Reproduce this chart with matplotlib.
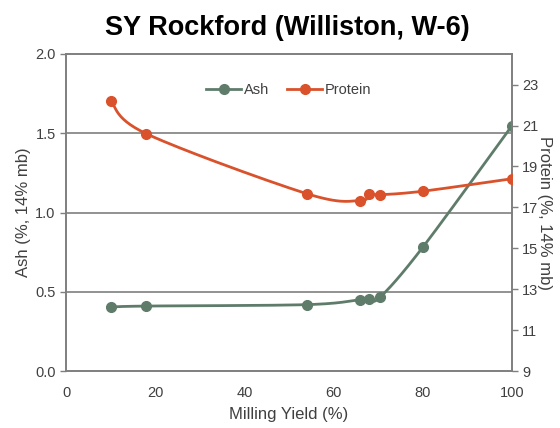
import matplotlib
matplotlib.use("Agg")
import matplotlib.pyplot as plt
import numpy as np

# data
milling_yield = [10, 18, 54, 66, 68, 70.5, 80, 100]
ash = [0.404, 0.41, 0.419, 0.45, 0.454, 0.467, 0.78, 1.546]
protein = [22.2, 20.6, 17.67, 17.33, 17.66, 17.62, 17.79, 18.4]

x_ticks = [0, 20, 40, 60, 80, 100]
ash_ticks = [0.0, 0.5, 1.0, 1.5, 2.0]
protein_ticks = [9, 11, 13, 15, 17, 19, 21, 23]

ASH_COLOR = "#5f7c6b"
PROTEIN_COLOR = "#d9522c"
GRAY = "#7f7f7f"
TEXT = "#404040"


def smooth(xs, ys, n=30):
    # Catmull-Rom style curve through the points, like Excel's smoothed lines
    xs = np.asarray(xs, float)
    ys = np.asarray(ys, float)
    px, py = [], []
    for i in range(len(xs) - 1):
        x0, y0 = (xs[i - 1], ys[i - 1]) if i > 0 else (xs[i], ys[i])
        x1, y1 = xs[i], ys[i]
        x2, y2 = xs[i + 1], ys[i + 1]
        x3, y3 = (xs[i + 2], ys[i + 2]) if i + 2 < len(xs) else (x2, y2)
        c1x, c1y = x1 + (x2 - x0) / 6, y1 + (y2 - y0) / 6
        c2x, c2y = x2 - (x3 - x1) / 6, y2 - (y3 - y1) / 6
        t = np.linspace(0, 1, n)
        bx = (1 - t) ** 3 * x1 + 3 * (1 - t) ** 2 * t * c1x + 3 * (1 - t) * t ** 2 * c2x + t ** 3 * x2
        by = (1 - t) ** 3 * y1 + 3 * (1 - t) ** 2 * t * c1y + 3 * (1 - t) * t ** 2 * c2y + t ** 3 * y2
        px.extend(bx)
        py.extend(by)
    return px, py


def main():
    plt.rcParams["font.family"] = ["Liberation Sans", "DejaVu Sans"]
    fig = plt.figure(figsize=(5.6, 4.28), dpi=100)
    ax = fig.add_axes([0.118, 0.133, 0.796, 0.741])
    ax2 = ax.twinx()

    ax.set_xlim(0, 100)
    ax.set_ylim(0, 2.0)
    ax2.set_ylim(9, 24.5)

    for v in ash_ticks[1:-1]:
        ax.axhline(v, color=GRAY, lw=1.2, zorder=0)

    sx, sy = smooth(milling_yield, ash)
    ax.plot(sx, sy, color=ASH_COLOR, lw=2, zorder=3)
    ax.plot(milling_yield, ash, "o", color=ASH_COLOR, ms=7, zorder=4)
    sx, sy = smooth(milling_yield, protein)
    ax2.plot(sx, sy, color=PROTEIN_COLOR, lw=2, zorder=3)
    ax2.plot(milling_yield, protein, "o", color=PROTEIN_COLOR, ms=7, zorder=4)

    # legend handles
    h1, = ax.plot([], [], "-o", color=ASH_COLOR, lw=2, ms=7, label="Ash")
    h2, = ax.plot([], [], "-o", color=PROTEIN_COLOR, lw=2, ms=7, label="Protein")
    ax.legend(handles=[h1, h2], loc="upper center", bbox_to_anchor=(0.5, 0.95), ncol=2,
              frameon=False, fontsize=10.5, handlelength=2.4, columnspacing=1.2,
              handletextpad=0.2, labelcolor=TEXT)

    ax.set_xticks(x_ticks)
    ax.set_yticks(ash_ticks)
    ax.set_yticklabels(["%.1f" % v for v in ash_ticks])
    ax2.set_yticks(protein_ticks)

    for a in (ax, ax2):
        for s in a.spines.values():
            s.set_color(GRAY)
            s.set_linewidth(1.2)
        a.tick_params(colors=GRAY, labelcolor=TEXT, labelsize=10.5, length=4, width=1)
    ax.tick_params(axis="x", length=0, pad=11)

    ax.set_xlabel("Milling Yield (%)", fontsize=12, color=TEXT, labelpad=5)
    ax.set_ylabel("Ash (%, 14% mb)", fontsize=12, color=TEXT, labelpad=3)
    ax2.set_ylabel("Protein (%, 14% mb)", fontsize=12, color=TEXT, rotation=270, labelpad=10)

    fig.text(0.513, 0.935, "SY Rockford (Williston, W-6)", fontsize=19.5, fontweight="bold",
             ha="center", va="center")

    fig.savefig("out.png", dpi=100)


if __name__ == '__main__':
    main()
